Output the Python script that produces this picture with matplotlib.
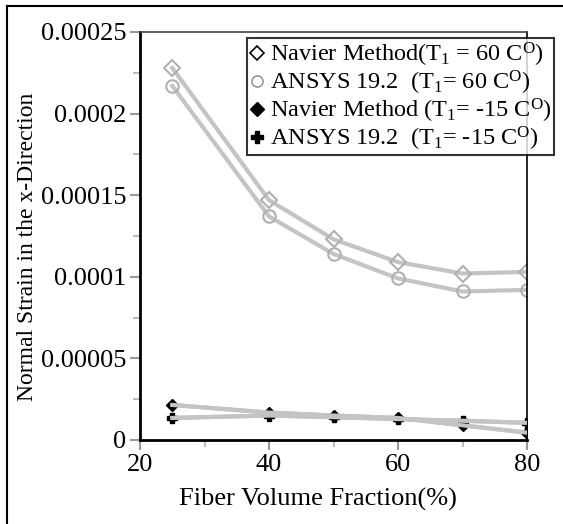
import matplotlib
matplotlib.use("Agg")
import matplotlib.pyplot as plt
from matplotlib.lines import Line2D

plt.rcParams["font.family"] = ["Liberation Serif", "DejaVu Serif"]
plt.rcParams["mathtext.fontset"] = "custom"
plt.rcParams["mathtext.rm"] = "Liberation Serif"
plt.rcParams["mathtext.it"] = "Liberation Serif:italic"

LINE = "#c4c4c4"
MK = "#b0b0b0"

fiber = [25, 40, 50, 60, 70, 80]
navier_60 = [0.000228, 0.000147, 0.000123, 0.000109, 0.000102, 0.000103]
ansys_60 = [0.000217, 0.000137, 0.000114, 0.000099, 0.000091, 0.000092]
navier_m15 = [0.0000215, 0.0000168, 0.0000150, 0.0000135, 0.0000090, 0.0000045]
ansys_m15 = [0.0000135, 0.0000150, 0.0000140, 0.0000128, 0.0000118, 0.0000105]

yticks = [0, 0.00005, 0.0001, 0.00015, 0.0002, 0.00025]
ylabels = ["0", "0.00005", "0.0001", "0.00015", "0.0002", "0.00025"]
xticks = [20, 40, 60, 80]

fig = plt.figure(figsize=(5.63, 5.24), dpi=100)
ax = fig.add_axes([140/563, 1-440/524, 387/563, 408/524])

ax.plot(fiber, navier_60, color=LINE, lw=3, marker="D", ms=8, mfc="none", mec=MK, mew=1.5)
ax.plot(fiber, ansys_60, color=LINE, lw=3, marker="o", ms=9, mfc="none", mec=MK, mew=1.5)
ax.plot(fiber, navier_m15, color=LINE, lw=3, marker="D", ms=6, mfc="k", mec="k", zorder=3)
ax.plot(fiber, ansys_m15, color=LINE, lw=3, marker="P", ms=7, mfc="k", mec="k", zorder=3)
# gray lines drawn over the black markers, as in the reference
ax.plot(fiber, navier_m15, color=LINE, lw=3, zorder=4)
ax.plot(fiber, ansys_m15, color=LINE, lw=3, zorder=4)

ax.set_xlim(20, 80)
ax.set_ylim(0, 0.00025)
ax.set_xticks(xticks)
ax.set_xticks([30, 50, 70], minor=True)
ax.set_yticks(yticks)
ax.set_yticklabels(ylabels)
ax.set_yticks([0.000025, 0.000075, 0.000125, 0.000175, 0.000225], minor=True)
ax.tick_params(labelsize=19, length=7, width=1.5, color="#999999", direction="out")
ax.tick_params(which="minor", length=5, width=1.5, color="#bbbbbb")
ax.tick_params(axis="x", pad=3)
ax.tick_params(axis="y", pad=3)

ax.spines["left"].set_linewidth(2)
ax.spines["bottom"].set_linewidth(2)
ax.spines["right"].set_linewidth(1.2)
ax.spines["top"].set_linewidth(1.2)
ax.spines["top"].set_color("#444444")

ax.set_xlabel("Fiber Volume Fraction(%)", fontsize=19)
ax.set_ylabel("Normal Strain in the x-Direction", fontsize=17)
ax.xaxis.set_label_coords((318-140)/387, -(488-440)/408)
ax.yaxis.set_label_coords(-(140-38)/387, (440-247)/408)

handles = [
    Line2D([], [], ls="none", marker="D", ms=7, mfc="white", mec="k", mew=1.2),
    Line2D([], [], ls="none", marker="o", ms=8, mfc="white", mec="#999999", mew=1.2),
    Line2D([], [], ls="none", marker="D", ms=7, mfc="k", mec="k"),
    Line2D([], [], ls="none", marker="P", ms=8, mfc="k", mec="k"),
]
labels = [
    r"Navier Method(T$_1$ = 60 C$^{\mathrm{O}}$)",
    r"ANSYS 19.2  (T$_1$= 60 C$^{\mathrm{O}}$)",
    r"Navier Method (T$_1$= -15 C$^{\mathrm{O}}$)",
    r"ANSYS 19.2  (T$_1$= -15 C$^{\mathrm{O}}$)",
]
leg = fig.legend(handles, labels, loc="upper left", bbox_to_anchor=(247/563, 1-38/524),
                 fontsize=17.5, frameon=True, fancybox=False, shadow=False,
                 handlelength=0.6, handletextpad=0.25, labelspacing=0.0,
                 borderpad=0.1, borderaxespad=0)
leg.get_frame().set_edgecolor("k")
leg.get_frame().set_linewidth(1.5)

# outer frame (left and top edges)
fig.add_artist(Line2D([7/563, 7/563], [0, 1-6/524], color="k", lw=1.5, transform=fig.transFigure))
fig.add_artist(Line2D([7/563, 1], [1-6/524, 1-6/524], color="k", lw=1.5, transform=fig.transFigure))

fig.savefig("out.png", dpi=100)
